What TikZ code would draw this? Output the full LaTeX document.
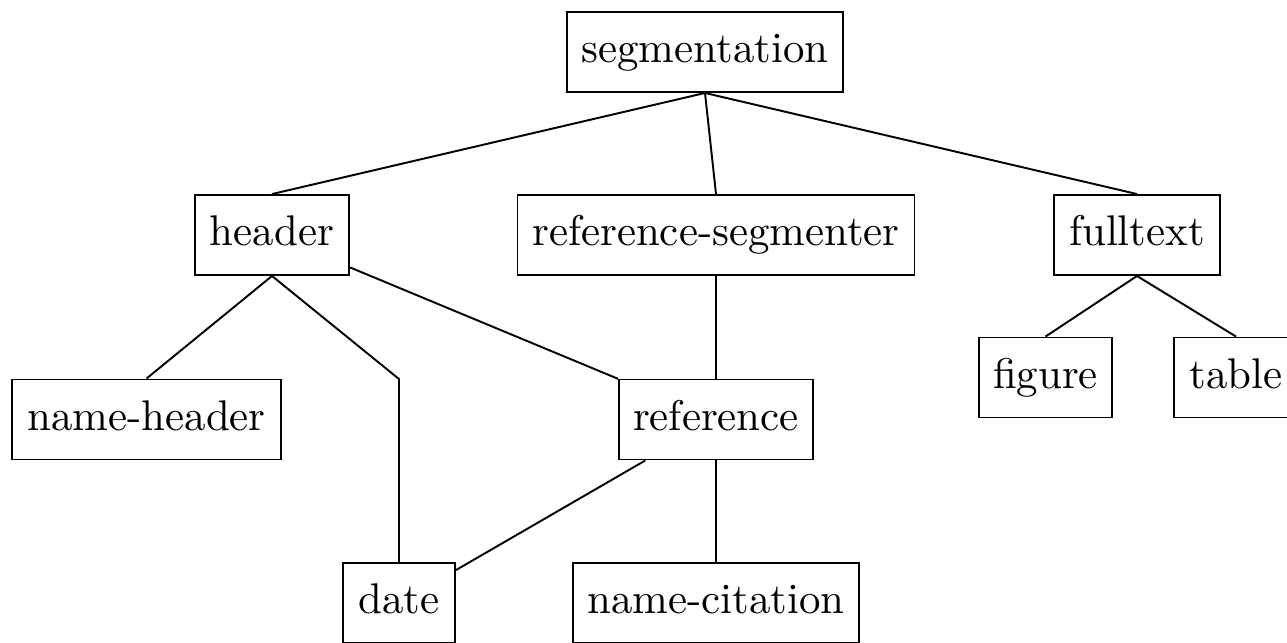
\documentclass[tikz,border=0pt]{standalone}
\newcommand\pxu{0.2331pt}
\tikzset{
  box/.style={draw, line width=0.45pt, inner sep=0pt, minimum height=80*\pxu, text height=6.9pt, text depth=1.9pt, align=center},
  link/.style={draw, line width=0.45pt},
}
\begin{document}
\begin{tikzpicture}[x=\pxu, y=-\pxu]
\useasboundingbox (0,0) rectangle (1287,642);
\node[box, minimum width=276*\pxu] (seg) at (705,52) {segmentation};
\node[box, minimum width=397*\pxu] (refseg) at (716,235) {reference-segmenter};
\node[box, minimum width=154*\pxu] (header) at (272,235) {header};
\node[box, minimum width=166*\pxu] (full) at (1137,235) {fulltext};
\node[box, minimum width=133*\pxu] (figure) at (1045.5,377.5) {figure};
\node[box, minimum width=124*\pxu] (table) at (1236,377.5) {table};
\node[box, minimum width=269*\pxu] (namehead) at (146.5,419.5) {name-header};
\node[box, minimum width=194*\pxu] (reference) at (716,419.5) {reference};
\node[box, minimum width=112*\pxu] (date) at (399,603) {date};
\node[box, minimum width=286*\pxu] (namecit) at (716,603) {name-citation};
\coordinate (bend) at (399,379);

\draw[link] (seg.south) -- (header.north);
\draw[link] (seg.south) -- (refseg.north);
\draw[link] (seg.south) -- (full.north);
\draw[link] (header.south) -- (namehead.north);
\draw[link] (header.south) -- (bend) -- (date.north);
\draw[link] (header) -- (reference);
\draw[link] (refseg.south) -- (reference.north);
\draw[link] (reference) -- (date);
\draw[link] (reference.south) -- (namecit.north);
\draw[link] (full.south) -- (figure.north);
\draw[link] (full.south) -- (table.north);
\end{tikzpicture}
\end{document}
